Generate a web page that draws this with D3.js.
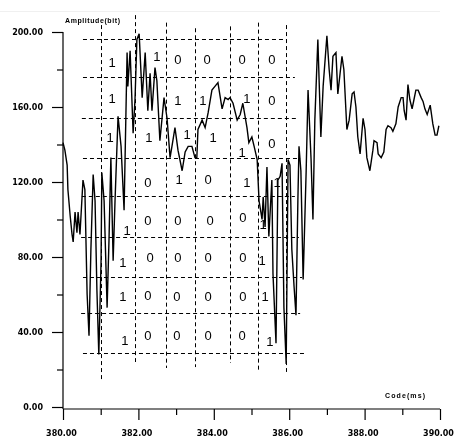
<!DOCTYPE html>
<html>
<head>
<meta charset="utf-8">
<script src="https://cdn.jsdelivr.net/npm/d3@7"></script>
<style>
  html, body { margin: 0; padding: 0; background: #fff; }
  svg { display: block; filter: grayscale(100%); }
  .tick text { font-family: "DejaVu Sans", sans-serif; font-weight: bold; font-size: 8px; fill: #000; }
  .bit { font-family: "Liberation Sans", Arial, sans-serif; font-size: 13px; fill: #000; }
  .title { font-family: "Liberation Sans", Arial, sans-serif; font-weight: bold; font-size: 7px; fill: #000; }
</style>
</head>
<body>
<div id="chart"></div>
<script>
// Sampled waveform: time (ms) and amplitude (bit).
var times = [
  380.00, 380.05, 380.11, 380.13, 380.19, 380.24, 380.27, 380.32, 380.37, 380.40,
  380.45, 380.53, 380.58, 380.64, 380.69, 380.74, 380.80, 380.85, 380.90, 380.95,
  381.01, 381.03, 381.09, 381.17, 381.22, 381.27, 381.33, 381.38, 381.46, 381.54,
  381.62, 381.70, 381.72, 381.78, 381.86, 381.91, 381.96, 382.02, 382.10, 382.18,
  382.25, 382.31, 382.36, 382.44, 382.49, 382.57, 382.68, 382.76, 382.84, 382.89,
  382.97, 383.05, 383.16, 383.24, 383.32, 383.42, 383.50, 383.55, 383.58, 383.69,
  383.77, 383.85, 383.95, 384.03, 384.11, 384.22, 384.30, 384.38, 384.43, 384.51,
  384.62, 384.70, 384.77, 384.88, 384.93, 385.01, 385.07, 385.15,
  385.20, 385.28, 385.31, 385.36, 385.41, 385.46, 385.54, 385.57, 385.65, 385.70,
  385.76, 385.81, 385.86, 385.92, 385.97, 386.02, 386.07, 386.13, 386.18, 386.23,
  386.26, 386.31, 386.37, 386.45, 386.50, 386.58, 386.63, 386.68, 386.76, 386.84,
  386.90, 387.00, 387.06, 387.11, 387.16, 387.24, 387.29, 387.35, 387.40, 387.45,
  387.53, 387.59, 387.67, 387.72, 387.77, 387.82, 387.88, 387.96, 388.01, 388.06,
  388.14, 388.22, 388.25, 388.33, 388.36, 388.44, 388.51, 388.57, 388.62, 388.70,
  388.75, 388.83, 388.89, 388.97, 389.02, 389.05, 389.10, 389.15, 389.20, 389.26,
  389.31, 389.36, 389.42, 389.50, 389.55, 389.60, 389.66, 389.74, 389.81, 389.87,
  389.92, 389.97
];
var amps = [
  141, 137, 129, 116, 102, 92, 88, 104, 93, 104,
  92, 121, 116, 60, 38, 84, 124, 110, 62, 28,
  78, 125, 110, 53, 89, 133, 78, 110, 155, 139,
  105, 189, 171, 190, 146, 164, 196, 199, 165, 189,
  158, 178, 158, 181, 174, 142, 165, 154, 133, 139,
  149, 137, 126, 136, 139, 139, 133, 133, 148, 153,
  149, 157, 169, 171, 173, 159, 165, 164, 165, 162,
  153, 156, 162, 149, 141, 144, 139, 132,
  110, 100, 112, 96, 128, 91, 121, 71, 34, 121,
  123, 130, 53, 23, 132, 129, 84, 64, 49, 110,
  139, 126, 68, 126, 169, 132, 100, 153, 196, 144,
  171, 198, 180, 169, 187, 189, 167, 178, 187, 180,
  148, 153, 167, 168, 160, 144, 135, 154, 148, 133,
  126, 137, 142, 141, 135, 133, 136, 148, 150, 149,
  147, 151, 160, 165, 165, 158, 153, 172, 164, 159,
  164, 169, 169, 165, 163, 159, 156, 161, 151, 145,
  145, 150
];

// Bit grid: vertical lines (time, top amp, bottom amp).
var gridTimes   = [381.01, 381.91, 382.73, 383.50, 384.43, 385.17, 385.92];
var gridTimeTop = [203.7, 209.0, 205.0, 202.0, 203.0, 205.0, 203.7];
var gridTimeBot = [13.3, 24.0, 20.8, 21.3, 23.5, 19.7, 18.7];

// Horizontal lines (amp, left time, right time).
var gridAmps    = [196.3, 176.0, 154.1, 132.8, 112.5, 90.7, 69.3, 50.1, 28.8];
var gridAmpLeft = [380.53, 380.53, 380.50, 380.53, 380.50, 380.48, 380.53, 380.48, 380.53];
var gridAmpRight = [385.94, 386.15, 386.20, 386.29, 386.15, 386.26, 386.34, 386.29, 386.42];

// Decoded bits: [time, amp, bit].
var bitLabels = [
  [381.30, 183.5, "1"], [382.49, 186.7, "1"], [383.05, 185.1, "0"], [383.82, 185.1, "0"], [384.75, 185.1, "0"], [385.54, 185.1, "0"],
  [381.30, 164.8, "1"], [383.05, 163.7, "1"], [383.71, 163.7, "1"], [384.88, 164.8, "1"], [385.54, 163.7, "0"],
  [381.25, 144.0, "1"], [382.28, 144.0, "1"], [383.29, 145.1, "1"], [383.98, 143.5, "1"], [384.75, 136.0, "1"], [385.54, 140.8, "0"],
  [382.25, 120.0, "0"], [383.08, 121.1, "1"], [383.85, 121.1, "0"], [384.88, 119.5, "1"], [385.68, 119.5, "1"],
  [381.70, 94.4, "1"], [382.25, 99.7, "0"], [383.05, 99.7, "0"], [383.90, 99.7, "0"], [384.77, 101.3, "0"], [385.31, 97.6, "1"],
  [381.59, 77.3, "1"], [382.31, 79.5, "0"], [383.05, 79.5, "0"], [383.85, 79.5, "0"], [384.77, 79.5, "0"], [385.28, 78.4, "1"],
  [381.59, 58.7, "1"], [382.25, 59.7, "0"], [383.02, 58.7, "0"], [383.85, 58.7, "0"], [384.77, 58.7, "0"], [385.36, 59.2, "1"],
  [381.64, 35.7, "1"], [382.25, 38.4, "0"], [383.02, 38.4, "0"], [383.85, 38.4, "0"], [384.75, 38.4, "0"], [385.49, 34.7, "1"]
];

// Axis ticks.
var xMajor = [380, 382, 384, 386, 388, 390];
var xMinor = [381, 383, 385, 387, 389];
var yMajor = [0, 40, 80, 120, 160, 200];
var yMinor = [20, 60, 100, 140, 180];

var width = 456, height = 438;

var svg = d3.select("#chart").append("svg")
    .attr("width", width)
    .attr("height", height);

var x = d3.scaleLinear().domain([380, 390]).range([63, 440]);
var y = d3.scaleLinear().domain([0, 200]).range([407, 32]);
var xAxisY = 409;
var fmt = d3.format(".2f");

// Faint line at the very top.
svg.append("line")
    .attr("x1", 0).attr("x2", 440)
    .attr("y1", 11.5).attr("y2", 11.5)
    .attr("stroke", "#f0f0f0");

// Dashed bit grid.
var grid = svg.append("g")
    .attr("stroke", "#000")
    .attr("stroke-width", 1)
    .attr("stroke-dasharray", "4,3");

grid.selectAll("line.v")
    .data(gridTimes)
    .enter().append("line")
    .attr("class", "v")
    .attr("x1", function(d) { return Math.round(x(d)) + 0.5; })
    .attr("x2", function(d) { return Math.round(x(d)) + 0.5; })
    .attr("y1", function(d, i) { return y(gridTimeTop[i]); })
    .attr("y2", function(d, i) { return y(gridTimeBot[i]); });

grid.selectAll("line.h")
    .data(gridAmps)
    .enter().append("line")
    .attr("class", "h")
    .attr("y1", function(d) { return Math.round(y(d)) + 0.5; })
    .attr("y2", function(d) { return Math.round(y(d)) + 0.5; })
    .attr("x1", function(d, i) { return x(gridAmpLeft[i]); })
    .attr("x2", function(d, i) { return x(gridAmpRight[i]); });

// Bit labels.
svg.append("g")
    .selectAll("text.bit")
    .data(bitLabels)
    .enter().append("text")
    .attr("class", "bit")
    .attr("x", function(d) { return x(d[0]); })
    .attr("y", function(d) { return y(d[1]); })
    .attr("text-anchor", "middle")
    .attr("dominant-baseline", "central")
    .text(function(d) { return d[2]; });

// Waveform.
var line = d3.line()
    .x(function(d, i) { return x(times[i]); })
    .y(function(d) { return y(d); });

svg.append("path")
    .datum(amps)
    .attr("fill", "none")
    .attr("stroke", "#000")
    .attr("stroke-width", 1.4)
    .attr("stroke-linejoin", "miter")
    .attr("d", line);

// Y axis.
var yAxis = svg.append("g")
    .attr("transform", "translate(63,0)")
    .call(d3.axisLeft(y).tickValues(yMajor).tickSize(11).tickPadding(9).tickFormat(fmt));
svg.append("g")
    .attr("transform", "translate(63,0)")
    .call(d3.axisLeft(y).tickValues(yMinor).tickSize(6).tickFormat(""))
    .select(".domain").remove();
yAxis.select(".domain").attr("d", "M0," + y(200) + "V" + xAxisY);

// X axis.
var xAxis = svg.append("g")
    .attr("transform", "translate(0," + xAxisY + ")")
    .call(d3.axisBottom(x).tickValues(xMajor).tickSize(11).tickFormat(fmt));
svg.append("g")
    .attr("transform", "translate(0," + xAxisY + ")")
    .call(d3.axisBottom(x).tickValues(xMinor).tickSize(6).tickFormat(""))
    .select(".domain").remove();
xAxis.select(".domain").attr("d", "M" + x(380) + ",0H" + x(390));
xAxis.selectAll(".tick text").attr("y", 27).attr("dy", 0).attr("dx", -2);

svg.selectAll(".tick line, .domain").attr("stroke", "#000").attr("stroke-width", 1.2);

// Axis titles.
svg.append("text")
    .attr("class", "title")
    .attr("x", 65).attr("y", 23)
    .attr("textLength", 55)
    .text("Amplitude(bit)");

svg.append("text")
    .attr("class", "title")
    .attr("x", 385).attr("y", 398)
    .attr("textLength", 40)
    .text("Code(ms)");
</script>
</body>
</html>
